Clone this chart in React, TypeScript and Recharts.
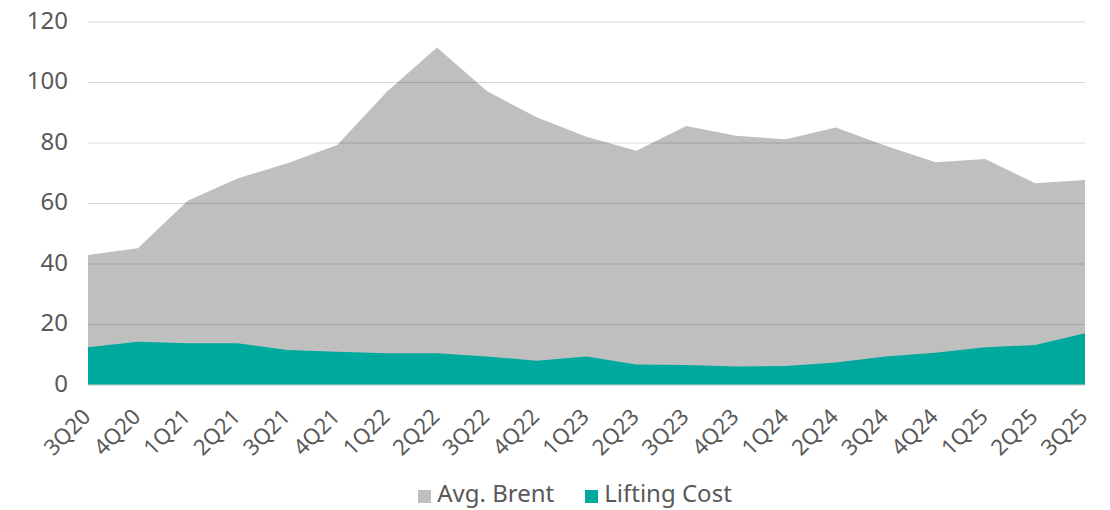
import { AreaChart, Area, XAxis, YAxis, CartesianGrid, Legend } from "recharts";

const quarters = [
  "3Q20", "4Q20", "1Q21", "2Q21", "3Q21", "4Q21", "1Q22", "2Q22", "3Q22", "4Q22",
  "1Q23", "2Q23", "3Q23", "4Q23", "1Q24", "2Q24", "3Q24", "4Q24", "1Q25", "2Q25", "3Q25",
];

const avgBrent = [
  43.0, 45.2, 60.9, 68.3, 73.3, 79.3, 97.0, 111.6, 97.2, 88.5,
  82.1, 77.4, 85.6, 82.4, 81.2, 85.1, 79.1, 73.6, 74.7, 66.7, 67.8,
];

const liftingCost = [
  12.5, 14.3, 13.8, 13.8, 11.6, 11.0, 10.5, 10.5, 9.4, 8.0,
  9.4, 6.8, 6.6, 6.1, 6.3, 7.4, 9.4, 10.7, 12.5, 13.2, 17.1,
];

const yTicks = [0, 20, 40, 60, 80, 100, 120];

const FONT = "'Noto Sans', sans-serif";
const TEXT = "#595959";
const GREY = "#bfbfbf";
const TEAL = "#00a99d";

const data = quarters.map((q, i) => ({
  quarter: q,
  brent: avgBrent[i],
  lifting: liftingCost[i],
}));

function QuarterTick(props: any) {
  const { x, y, payload } = props;
  return (
    <g transform={`translate(${x + 4},${y + 33})`}>
      <text
        x={0}
        y={0}
        textAnchor="end"
        transform="rotate(-45)"
        fill={TEXT}
        fontSize={22}
        fontFamily={FONT}
      >
        {payload.value}
      </text>
    </g>
  );
}

// legend sits centred under the plot area, not the whole svg
function LegendRow(props: any) {
  const items = props.payload || [];
  return (
    <div
      style={{
        display: "flex",
        justifyContent: "center",
        gap: 31,
        paddingLeft: 57,
        fontFamily: FONT,
        fontSize: 24,
        color: TEXT,
        lineHeight: "30px",
      }}
    >
      {items.map((it: any) => (
        <span key={it.value} style={{ display: "flex", alignItems: "center", gap: 6 }}>
          <span style={{ width: 13, height: 13, background: it.color, marginTop: 6 }} />
          {it.value}
        </span>
      ))}
    </div>
  );
}

export default function App() {
  // negative margin collapses with the body margin so the svg starts at the page top
  return (
    <div style={{ marginTop: -8 }}>
      <AreaChart
        width={1100}
        height={508}
        data={data}
        margin={{ top: 22, right: 23, bottom: 0, left: 0 }}
      >
        <Area
          type="linear"
          dataKey="brent"
          name="Avg. Brent"
          stroke="none"
          fill={GREY}
          fillOpacity={1}
          isAnimationActive={false}
        />
        <Area
          type="linear"
          dataKey="lifting"
          name="Lifting Cost"
          stroke="none"
          fill={TEAL}
          fillOpacity={1}
          isAnimationActive={false}
        />
        <CartesianGrid
          vertical={false}
          stroke="#000"
          strokeOpacity={0.15}
          zIndex={200}
        />
        <XAxis
          dataKey="quarter"
          interval={0}
          tickLine={false}
          tickSize={0}
          tickMargin={0}
          height={93}
          axisLine={{ stroke: "#d9d9d9" }}
          tick={<QuarterTick />}
        />
        <YAxis
          domain={[0, 120]}
          ticks={yTicks}
          width={80}
          axisLine={false}
          tickLine={false}
          tickSize={0}
          tickMargin={20}
          tick={{ fill: TEXT, fontSize: 24, fontFamily: FONT, dy: -2 }}
        />
        <Legend verticalAlign="bottom" height={30} content={<LegendRow />} />
      </AreaChart>
    </div>
  );
}
